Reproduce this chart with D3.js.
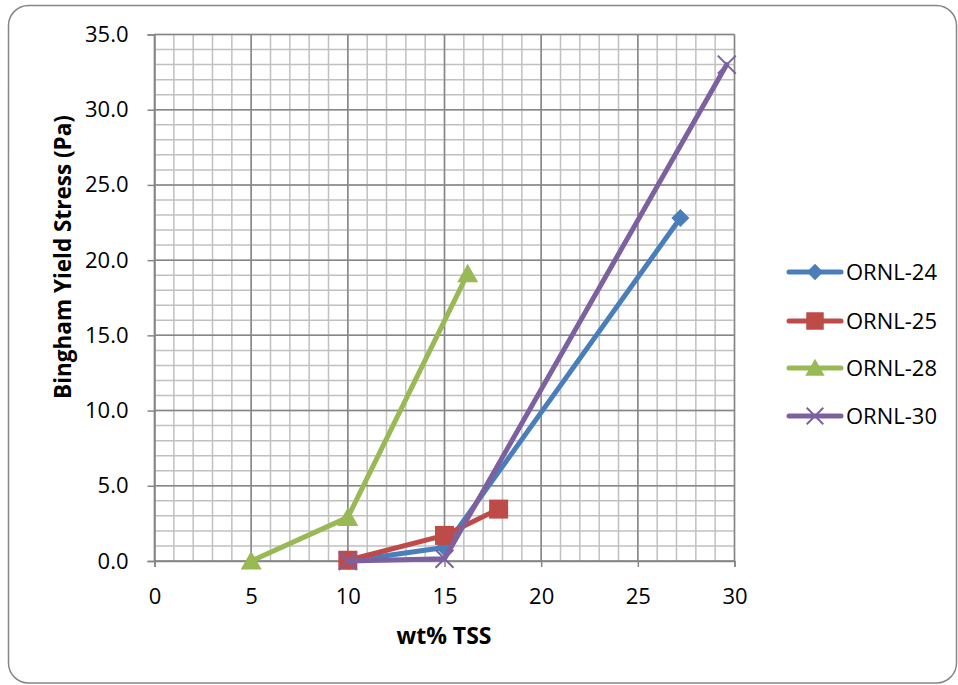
<!DOCTYPE html>
<html>
<head>
<meta charset="utf-8">
<script src="https://cdn.jsdelivr.net/npm/d3@7"></script>
<style>
  html, body { margin: 0; padding: 0; background: #fff; }
  svg { display: block; font-family: "Open Sans", Lato, sans-serif; }
</style>
</head>
<body>
<svg id="chart" width="958" height="685"></svg>
<script>
// Series data: wt% TSS vs Bingham yield stress (Pa)
const seriesNames = ["ORNL-24", "ORNL-25", "ORNL-28", "ORNL-30"];
const seriesColors = ["#4a7ebb", "#be4b48", "#98b954", "#7d60a0"];
const seriesMarkers = ["diamond", "square", "triangle", "cross"];
const ornl24X = [10, 15, 27.2];
const ornl24Y = [0.0, 0.9, 22.8];
const ornl25X = [10, 15, 17.8];
const ornl25Y = [0.05, 1.7, 3.45];
const ornl28X = [5, 10, 16.2];
const ornl28Y = [0.0, 2.9, 19.1];
const ornl30X = [10, 15, 29.6];
const ornl30Y = [0.0, 0.15, 33.0];
const xTicks = [0, 5, 10, 15, 20, 25, 30];
const yTicks = [0, 5, 10, 15, 20, 25, 30, 35];

const seriesX = [ornl24X, ornl25X, ornl28X, ornl30X];
const seriesY = [ornl24Y, ornl25Y, ornl28Y, ornl30Y];

const FONT = "'Open Sans', Lato, sans-serif";
const svg = d3.select("#chart");

// Chart frame
svg.append("rect")
  .attr("x", 8.5).attr("y", 5.5)
  .attr("width", 948).attr("height", 677.5)
  .attr("rx", 20).attr("ry", 20)
  .attr("fill", "#fff").attr("stroke", "#868686").attr("stroke-width", 1.5);

const plot = { left: 154.5, right: 734.5, top: 34.5, bottom: 561 };
const x = d3.scaleLinear().domain([0, 30]).range([plot.left, plot.right]);
const y = d3.scaleLinear().domain([0, 35]).range([plot.bottom, plot.top]);

const grid = svg.append("g");
// Minor gridlines (every 1 unit)
grid.selectAll(".vminor").data(d3.range(0, 31)).enter().append("line")
  .attr("x1", d => x(d)).attr("x2", d => x(d))
  .attr("y1", plot.top).attr("y2", plot.bottom)
  .attr("stroke", "#c0c0c0").attr("stroke-width", 1.5);
grid.selectAll(".hminor").data(d3.range(0, 36)).enter().append("line")
  .attr("x1", plot.left).attr("x2", plot.right)
  .attr("y1", d => y(d)).attr("y2", d => y(d))
  .attr("stroke", "#c0c0c0").attr("stroke-width", 1.5);
// Major gridlines
grid.selectAll(".vmajor").data(xTicks).enter().append("line")
  .attr("x1", d => x(d)).attr("x2", d => x(d))
  .attr("y1", plot.top).attr("y2", plot.bottom)
  .attr("stroke", "#868686").attr("stroke-width", 1.5);
grid.selectAll(".hmajor").data(yTicks).enter().append("line")
  .attr("x1", plot.left).attr("x2", plot.right)
  .attr("y1", d => y(d)).attr("y2", d => y(d))
  .attr("stroke", "#868686").attr("stroke-width", 1.5);

// Axes
const xAxis = d3.axisBottom(x).tickValues(xTicks).tickSize(6)
  .tickFormat(d3.format("d"));
const yAxis = d3.axisLeft(y).tickValues(yTicks).tickSize(7).tickPadding(19)
  .tickFormat(d3.format(".1f"));

const gx = svg.append("g").attr("transform", `translate(0,${plot.bottom})`).call(xAxis);
const gy = svg.append("g").attr("transform", `translate(${plot.left},0)`).call(yAxis);
[gx, gy].forEach(g => {
  g.select(".domain").attr("stroke", "#868686").attr("stroke-width", 1.5);
  g.selectAll(".tick line").attr("stroke", "#868686").attr("stroke-width", 1.5);
  g.selectAll("text").attr("fill", "#000").style("font-size", "22px")
    .style("font-family", FONT);
});
gx.selectAll(".tick text").attr("dy", null).attr("y", 43);

// Axis titles
svg.append("text")
  .attr("x", 444).attr("y", 644)
  .attr("text-anchor", "middle")
  .style("font-size", "23px").style("font-weight", "bold").style("font-family", FONT)
  .text("wt% TSS");
svg.append("text")
  .attr("transform", "translate(71,257) rotate(-90)")
  .attr("text-anchor", "middle")
  .style("font-size", "22.5px").style("font-weight", "bold").style("font-family", FONT)
  .text("Bingham Yield Stress (Pa)");

// Marker drawing
function drawMarker(g, type, color, cx, cy, scale) {
  const s = scale || 1;
  if (type === "diamond") {
    const r = 9 * s;
    g.append("path")
      .attr("d", `M${cx},${cy - r}L${cx + r},${cy}L${cx},${cy + r}L${cx - r},${cy}Z`)
      .attr("fill", color);
  } else if (type === "square") {
    const h = 9.5 * s;
    g.append("rect").attr("x", cx - h).attr("y", cy - h)
      .attr("width", 2 * h).attr("height", 2 * h).attr("fill", color);
  } else if (type === "triangle") {
    const h = 10 * s;
    g.append("path")
      .attr("d", `M${cx},${cy - h}L${cx + h * 1.05},${cy + h * 0.85}L${cx - h * 1.05},${cy + h * 0.85}Z`)
      .attr("fill", color);
  } else if (type === "cross") {
    const h = 9 * s;
    g.append("path")
      .attr("d", `M${cx - h},${cy - h}L${cx + h},${cy + h}M${cx - h},${cy + h}L${cx + h},${cy - h}`)
      .attr("stroke", color).attr("stroke-width", 2).attr("fill", "none");
  }
}

// Series lines and markers
const line = d3.line().x(d => x(d[0])).y(d => y(d[1]));
seriesNames.forEach((name, i) => {
  const pts = seriesX[i].map((v, j) => [v, seriesY[i][j]]);
  const g = svg.append("g");
  g.append("path").datum(pts).attr("d", line)
    .attr("fill", "none").attr("stroke", seriesColors[i])
    .attr("stroke-width", 5).attr("stroke-linejoin", "round").attr("stroke-linecap", "round");
  pts.forEach(p => drawMarker(g, seriesMarkers[i], seriesColors[i], x(p[0]), y(p[1])));
});

// Legend
const legendY = [272, 321, 368, 416];
const legend = svg.append("g");
seriesNames.forEach((name, i) => {
  const ly = legendY[i];
  legend.append("line").attr("x1", 789).attr("x2", 841).attr("y1", ly).attr("y2", ly)
    .attr("stroke", seriesColors[i]).attr("stroke-width", 5).attr("stroke-linecap", "round");
  drawMarker(legend, seriesMarkers[i], seriesColors[i], 815, ly, 0.92);
  legend.append("text").attr("x", 846).attr("y", ly + 8)
    .style("font-size", "22px").style("font-family", FONT).text(name);
});
</script>
</body>
</html>
